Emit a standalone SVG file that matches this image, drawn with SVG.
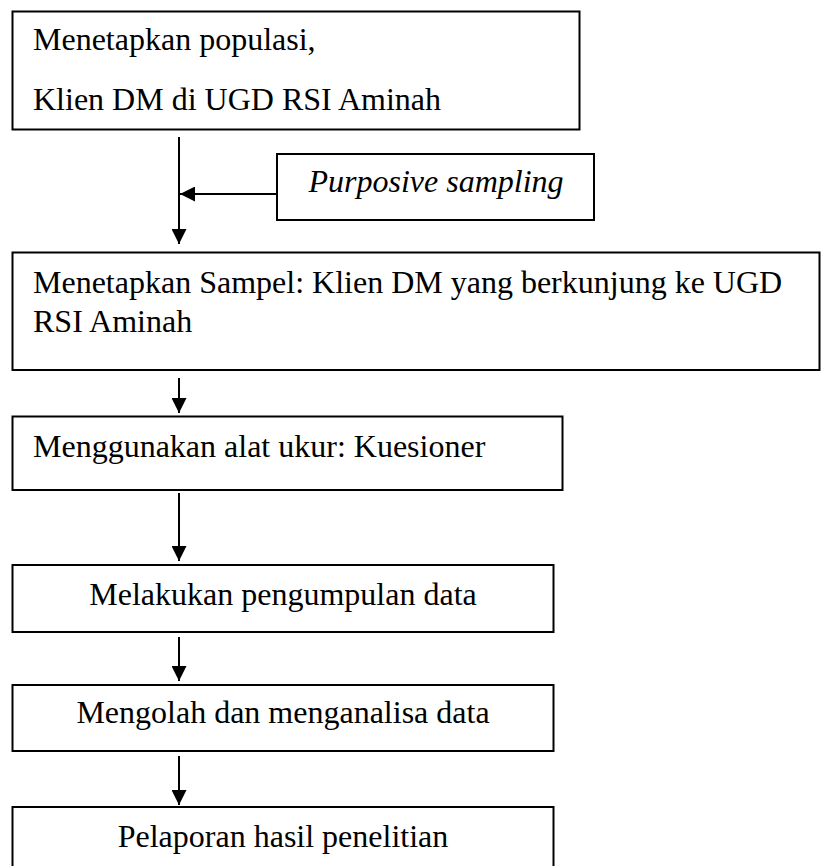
<svg xmlns="http://www.w3.org/2000/svg" width="821" height="866" viewBox="0 0 821 866">
<style>
  .box { fill: #ffffff; stroke: #000000; stroke-width: 2; }
  .t { font-family: "Liberation Serif", "Times New Roman", serif; font-size: 32px; fill: #000000; }
  .it { font-style: italic; }
  .mid { text-anchor: middle; }
  .conn line { stroke: #000000; stroke-width: 2; }
</style>
<defs>
  <marker id="arrow" markerUnits="userSpaceOnUse" markerWidth="16" markerHeight="15" refX="15" refY="7.5" orient="auto">
    <path d="M0,0 L15,7.5 L0,15 Z" fill="#000000"/>
  </marker>
</defs>
<rect width="821" height="866" fill="#ffffff"/>

<g id="n1">
  <rect class="box" x="12.5" y="11.5" width="567" height="118"/>
  <text class="t" x="33" y="50">Menetapkan populasi,</text>
  <text class="t" x="33" y="110">Klien DM di UGD RSI Aminah</text>
</g>

<g id="n_sampling">
  <rect class="box" x="277" y="154" width="317" height="66"/>
  <text class="t it mid" x="436" y="192">Purposive sampling</text>
</g>

<g id="n2">
  <rect class="box" x="12.5" y="252.5" width="807" height="117.5"/>
  <text class="t" x="33" y="293">Menetapkan Sampel: Klien DM yang berkunjung ke UGD</text>
  <text class="t" x="33" y="332">RSI Aminah</text>
</g>

<g id="n3">
  <rect class="box" x="12.5" y="416.5" width="550" height="73.5"/>
  <text class="t" x="33" y="457">Menggunakan alat ukur: Kuesioner</text>
</g>

<g id="n4">
  <rect class="box" x="12.5" y="565" width="541" height="67"/>
  <text class="t mid" x="283" y="605">Melakukan pengumpulan data</text>
</g>

<g id="n5">
  <rect class="box" x="12.5" y="685" width="541" height="66"/>
  <text class="t mid" x="283" y="723">Mengolah dan menganalisa data</text>
</g>

<g id="n6">
  <rect class="box" x="12.5" y="807" width="541" height="70"/>
  <text class="t mid" x="283" y="847">Pelaporan hasil penelitian</text>
</g>

<g id="connectors" class="conn">
  <line x1="179" y1="137" x2="179" y2="244" marker-end="url(#arrow)"/>
  <line x1="277" y1="194" x2="180" y2="194" marker-end="url(#arrow)"/>
  <line x1="179" y1="378" x2="179" y2="413" marker-end="url(#arrow)"/>
  <line x1="179" y1="493" x2="179" y2="561" marker-end="url(#arrow)"/>
  <line x1="179" y1="637" x2="179" y2="681" marker-end="url(#arrow)"/>
  <line x1="179" y1="756" x2="179" y2="805" marker-end="url(#arrow)"/>
</g>
</svg>
